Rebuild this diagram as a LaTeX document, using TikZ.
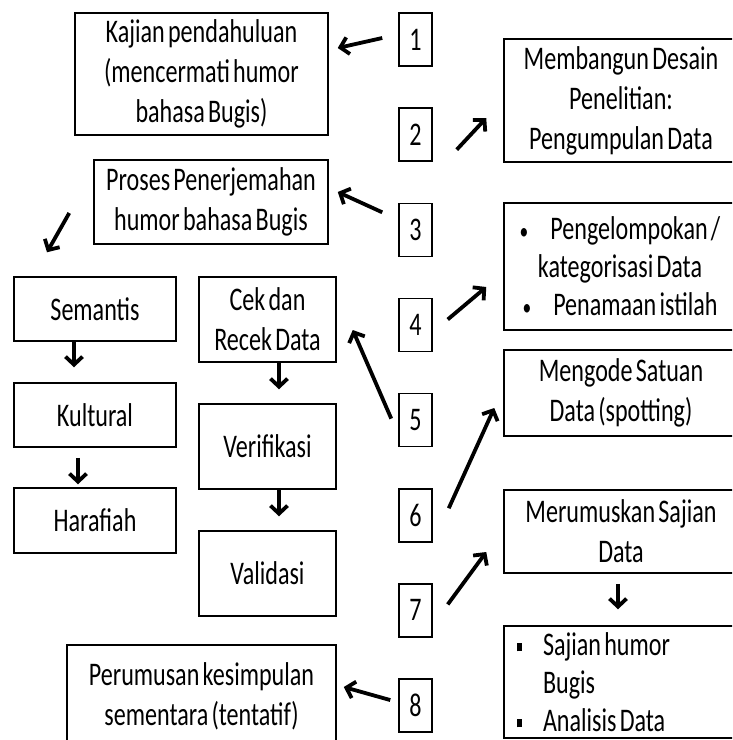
\documentclass[tikz,border=0pt]{standalone}
\usepackage{fontspec}
\setmainfont[FakeStretch=0.73,WordSpace=0.6]{Carlito}
\usetikzlibrary{arrows.meta,positioning}

\newcommand{\sqbul}{\makebox[26pt][l]{\rule[4pt]{5pt}{8pt}}}
\newcommand{\smbul}{{\fontsize{24}{24}\selectfont\textbullet}}

\begin{document}
\begin{tikzpicture}[x=1pt, y=-1pt,
	font=\fontsize{33}{40}\selectfont,
	box/.style={rectangle, draw, line width=1.5pt, inner sep=0pt, align=center},
	numbox/.style={box, minimum width=33pt, minimum height=53pt},
	listbox/.style={box, minimum width=232pt, inner xsep=13pt, text width=206pt, align=flush left},
	arr/.style={line width=3.8pt, -{Straight Barb[length=8pt,width=17pt]}}
	]
	\useasboundingbox (0,0) rectangle (732,740);
	\clip (0,0) rectangle (732,740);
	
	% numbered steps
	\foreach \i in {1,...,8}
		\node[numbox] (n\i) at (415.5, 39.5+95.15*\i-95.15) {\i};
	
	% left column
	\node[box, minimum width=253pt, minimum height=122pt] (kajian) at (201.5,74) {Kajian pendahuluan\\(mencermati humor\\bahasa Bugis)};
	\node[box, minimum width=234pt, minimum height=84pt] (proses) at (211,202) {Proses Penerjemahan\\humor bahasa Bugis};
	\node[box, minimum width=162pt, minimum height=64pt] (semantis) at (95,309) {Semantis};
	\node[box, minimum width=162pt, minimum height=64pt] (kultural) at (95,415) {Kultural};
	\node[box, minimum width=162pt, minimum height=65pt] (harafiah) at (95,520.5) {Harafiah};
	\node[box, minimum width=137pt, minimum height=85pt] (cek) at (267.5,319.5) {Cek dan\\Recek Data};
	\node[box, minimum width=137pt, minimum height=85pt] (verifikasi) at (267.5,446.5) {Verifikasi};
	\node[box, minimum width=137pt, minimum height=85pt] (validasi) at (267.5,573.5) {Validasi};
	\node[box, minimum width=269pt, minimum height=102pt] (perumusan) at (201.5,696) {Perumusan kesimpulan\\sementara (tentatif)};
	
	% right column
	\node[box, minimum width=234pt, minimum height=123pt] (membangun) at (621,100.5) {Membangun Desain\\Penelitian:\\Pengumpulan Data};
	\node[box, minimum width=232pt, minimum height=127pt, font=\fontsize{33}{38}\selectfont] (kelompok) at (620,266.5) {\smbul\hspace{22pt}Pengelompokan /\\kategorisasi Data\\\smbul\hspace{22pt}Penamaan istilah};
	\node[box, minimum width=234pt, minimum height=86pt] (mengode) at (621,393) {Mengode Satuan\\Data (spotting)};
	\node[box, minimum width=234pt, minimum height=83pt] (merumuskan) at (621,531.5) {Merumuskan Sajian\\Data};
	\node[listbox, minimum height=112pt, font=\fontsize{33}{38}\selectfont] (sajian) at (620,682) {\sqbul Sajian humor\\\hspace*{26pt}Bugis\\\sqbul Analisis Data};
	
	% arrows from the steps
	\draw[arr] ([xshift=-16pt,yshift=1.5pt]n1.west) -- ([xshift=9pt,yshift=26pt]kajian.east);
	\draw[arr] ([xshift=24pt,yshift=-15pt]n2.east) -- ([xshift=-17pt,yshift=-17.5pt]membangun.west);
	\draw[arr] ([xshift=-16pt,yshift=17.5pt]n3.west) -- ([xshift=9pt,yshift=10pt]proses.east);
	\draw[arr] ([xshift=15pt,yshift=5.5pt]n4.east) -- ([xshift=-17pt,yshift=-20.5pt]kelompok.west);
	\draw[arr] ([xshift=-7pt,yshift=1.5pt]n5.west) -- ([xshift=16pt,yshift=-10.5pt]cek.east);
	\draw[arr] ([xshift=16pt,yshift=7pt]n6.east) -- ([xshift=-9pt,yshift=-15pt]mengode.west);
	\draw[arr] ([xshift=15pt,yshift=6pt]n7.east) -- ([xshift=-17pt,yshift=-20.5pt]merumuskan.west);
	\draw[arr] ([xshift=-8pt,yshift=5.5pt]n8.west) -- ([xshift=7pt,yshift=9pt]perumusan.east);
	
	% arrows inside the columns
	\draw[arr] ([xshift=-24pt,yshift=-11pt]proses.west) -- ([xshift=-48pt,yshift=24pt]semantis.north);
	\draw[arr] ([xshift=-21pt]semantis.south) -- ([xshift=-21pt,yshift=15pt]kultural.north);
	\draw[arr] ([xshift=-17pt,yshift=-10pt]kultural.south) -- ([xshift=-17pt,yshift=3pt]harafiah.north);
	\draw[arr] ([xshift=11.5pt]cek.south) -- ([xshift=11.5pt,yshift=14pt]verifikasi.north);
	\draw[arr] ([xshift=11.5pt]verifikasi.south) -- ([xshift=11.5pt,yshift=14pt]validasi.north);
	\draw[arr] ([xshift=-3pt,yshift=-10pt]merumuskan.south) -- ([xshift=-2pt,yshift=16pt]sajian.north);
\end{tikzpicture}
\end{document}
